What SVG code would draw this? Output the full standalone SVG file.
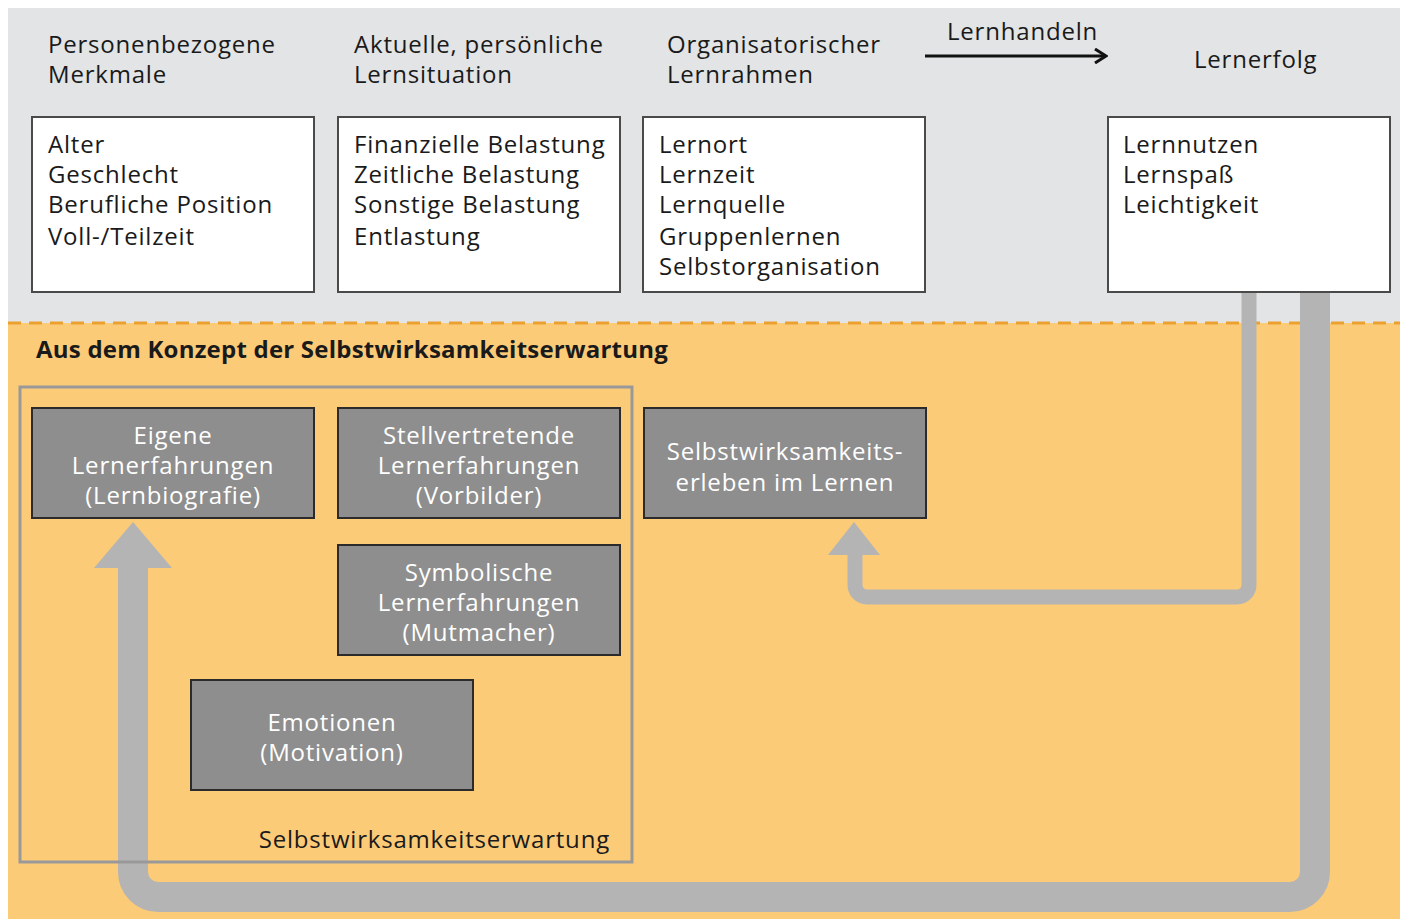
<svg xmlns="http://www.w3.org/2000/svg" width="1405" height="919" viewBox="0 0 1405 919">
<defs>
<style>
text{font-family:"Open Sans","Liberation Sans",sans-serif;font-size:24px;letter-spacing:0.8px;fill:#1a1a1a}
.bold{font-weight:bold;font-size:24px;letter-spacing:0.22px}
.wb{fill:#fff;stroke:#4a4a4a;stroke-width:2}
.db{fill:#8e8e8e;stroke:#2b2b2b;stroke-width:2}
.dt{fill:#fff;text-anchor:middle}
.band{fill:none;stroke:#b4b4b4}
.arrowhead{fill:#b4b4b4}
</style>
<marker id="ah" viewBox="0 0 16 16" refX="14" refY="8" markerWidth="16" markerHeight="16" markerUnits="userSpaceOnUse" orient="auto"><path d="M3,1 L14,8 L3,15" fill="none" stroke="#111" stroke-width="3"/></marker>
</defs>
<rect x="0" y="0" width="1405" height="919" fill="#fff"/>
<rect x="8" y="8" width="1392" height="315" fill="#e2e4e5"/>
<rect x="8" y="323" width="1392" height="596" fill="#fccb78"/>
<line x1="8" y1="323" x2="1400" y2="323" stroke="#eba12f" stroke-width="3" stroke-dasharray="13,8"/>

<g id="headers">
<text x="48" y="53">Personenbezogene</text>
<text x="48" y="83">Merkmale</text>
<text x="354" y="53">Aktuelle, persönliche</text>
<text x="354" y="83">Lernsituation</text>
<text x="667" y="53">Organisatorischer</text>
<text x="667" y="83">Lernrahmen</text>
<text x="947" y="40">Lernhandeln</text>
<text x="1194" y="68">Lernerfolg</text>
</g>

<g id="connectors">
<line x1="925" y1="56" x2="1106" y2="56" stroke="#111" stroke-width="3" marker-end="url(#ah)"/>
<path class="band" stroke-width="30" d="M1315,292 V872 A25,25 0 0 1 1290,897 H158 A25,25 0 0 1 133,872 V566"/>
<polygon class="arrowhead" points="133,522 94,568 172,568"/>
<path class="band" stroke-width="15" d="M1249,292 V585 A12,12 0 0 1 1237,597 H867 A12,12 0 0 1 855,585 V553"/>
<polygon class="arrowhead" points="854,522 828,555 880,555"/>
</g>

<g id="node-personen">
<rect class="wb" x="32" y="117" width="282" height="175"/>
<text x="48" y="153">Alter</text>
<text x="48" y="183">Geschlecht</text>
<text x="48" y="213">Berufliche Position</text>
<text x="48" y="245">Voll-/Teilzeit</text>
</g>
<g id="node-lernsituation">
<rect class="wb" x="338" y="117" width="282" height="175"/>
<text x="354" y="153">Finanzielle Belastung</text>
<text x="354" y="183">Zeitliche Belastung</text>
<text x="354" y="213">Sonstige Belastung</text>
<text x="354" y="245">Entlastung</text>
</g>
<g id="node-lernrahmen">
<rect class="wb" x="643" y="117" width="282" height="175"/>
<text x="659" y="153">Lernort</text>
<text x="659" y="183">Lernzeit</text>
<text x="659" y="213">Lernquelle</text>
<text x="659" y="245">Gruppenlernen</text>
<text x="659" y="275">Selbstorganisation</text>
</g>
<g id="node-lernerfolg">
<rect class="wb" x="1108" y="117" width="282" height="175"/>
<text x="1123" y="153">Lernnutzen</text>
<text x="1123" y="183">Lernspaß</text>
<text x="1123" y="213">Leichtigkeit</text>
</g>

<text class="bold" x="36" y="358">Aus dem Konzept der Selbstwirksamkeitserwartung</text>

<g id="frame-selbstwirksamkeitserwartung">
<rect x="20" y="387" width="612" height="475" fill="none" stroke="#999" stroke-width="3"/>
<text x="610" y="848" text-anchor="end">Selbstwirksamkeitserwartung</text>
</g>

<g id="node-eigene">
<rect class="db" x="32" y="408" width="282" height="110"/>
<text class="dt" x="173" y="444">Eigene</text>
<text class="dt" x="173" y="474">Lernerfahrungen</text>
<text class="dt" x="173" y="504">(Lernbiografie)</text>
</g>
<g id="node-stellvertretende">
<rect class="db" x="338" y="408" width="282" height="110"/>
<text class="dt" x="479" y="444">Stellvertretende</text>
<text class="dt" x="479" y="474">Lernerfahrungen</text>
<text class="dt" x="479" y="504">(Vorbilder)</text>
</g>
<g id="node-selbstwirksamkeitserleben">
<rect class="db" x="644" y="408" width="282" height="110"/>
<text class="dt" x="785" y="460">Selbstwirksamkeits-</text>
<text class="dt" x="785" y="491">erleben im Lernen</text>
</g>
<g id="node-symbolische">
<rect class="db" x="338" y="545" width="282" height="110"/>
<text class="dt" x="479" y="581">Symbolische</text>
<text class="dt" x="479" y="611">Lernerfahrungen</text>
<text class="dt" x="479" y="641">(Mutmacher)</text>
</g>
<g id="node-emotionen">
<rect class="db" x="191" y="680" width="282" height="110"/>
<text class="dt" x="332" y="731">Emotionen</text>
<text class="dt" x="332" y="761">(Motivation)</text>
</g>
</svg>
